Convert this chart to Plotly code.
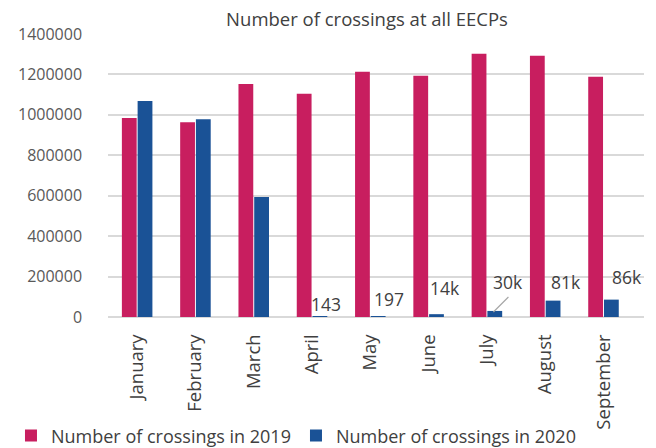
import plotly.graph_objects as go

months = ["January", "February", "March", "April", "May", "June", "July", "August", "September"]
crossings_2019 = [985000, 963000, 1153000, 1104000, 1213000, 1193000, 1302000, 1292000, 1188000]
crossings_2020 = [1069000, 978000, 594000, 143, 197, 14000, 30000, 81000, 86000]
label_months = ["April", "May", "June", "July", "August", "September"]
label_texts = ["143", "197", "14k", "30k", "81k", "86k"]
label_values = [143, 197, 14000, 30000, 81000, 86000]
y_ticks = [0, 200000, 400000, 600000, 800000, 1000000, 1200000, 1400000]

# style offsets (pixels) for the manually placed data labels
label_xshift = [13.5, 19, 16, 21.5, 21, 23.5]
label_yshift = [13, 18, 26, 29, 18.6, 22.6]

FONT = "Open Sans"
PINK = "#C81E5F"
BLUE = "#1A5296"
PAD = "\u00a0" * 6

fig = go.Figure()
fig.add_trace(go.Bar(x=months, y=crossings_2019, name="Number of crossings in 2019",
                     marker=dict(color=PINK, line=dict(width=0))))
fig.add_trace(go.Bar(x=months, y=crossings_2020, name="Number of crossings in 2020",
                     marker=dict(color=BLUE, line=dict(width=0))))

for m, t, v, xs, ys in zip(label_months, label_texts, label_values, label_xshift, label_yshift):
    fig.add_annotation(x=m, y=v, text=t, showarrow=False, xshift=xs, yshift=ys,
                       font=dict(family=FONT, size=17.5, color="#404040"))

# leader line for the July label
fig.add_shape(type="line", xref="x", yref="y", xsizemode="pixel", ysizemode="pixel",
              xanchor="July", yanchor=0, x0=6.5, x1=21.5, y0=5, y1=20,
              line=dict(color="#A6A6A6", width=1.2))

fig.update_layout(
    width=656, height=448,
    margin=dict(l=108, r=12, t=34, b=131, autoexpand=False),
    paper_bgcolor="white", plot_bgcolor="white",
    barmode="group", bargap=0.46, bargroupgap=0.06,
    title=dict(text="Number of crossings at all EECPs", x=367 / 656, xanchor="center",
               xref="container", yref="container",
               y=1 - 20 / 448, yanchor="middle",
               font=dict(family=FONT, size=18.5, color="#404040"), automargin=False),
    font=dict(family=FONT, size=16, color="#595959"),
    legend=dict(orientation="h", x=-0.181, xanchor="left", y=-0.42, yanchor="middle",
                font=dict(family=FONT, size=18, color="#404040"), itemsizing="constant",
                entrywidth=240, entrywidthmode="pixels",
                traceorder="normal", bgcolor="rgba(0,0,0,0)"),
    showlegend=True,
)
fig.update_yaxes(range=[0, 1400000], tickvals=y_ticks, ticktext=[str(v) + PAD for v in y_ticks],
                 showgrid=True, gridcolor="#D9D9D9", gridwidth=1.5,
                 zeroline=True, zerolinecolor="#D9D9D9", zerolinewidth=1.5,
                 tickfont=dict(family=FONT, size=16, color="#595959"), ticks="", showline=False,
                 automargin=False)
fig.update_xaxes(tickangle=-90, tickfont=dict(family=FONT, size=18.5, color="#404040"),
                 showgrid=False, ticks="outside", ticklen=9, tickcolor="rgba(0,0,0,0)",
                 showline=False, automargin=False)

fig.write_html("out.html", config={"displayModeBar": False},
               post_script="document.body.style.margin='0';document.body.style.padding='0';")
